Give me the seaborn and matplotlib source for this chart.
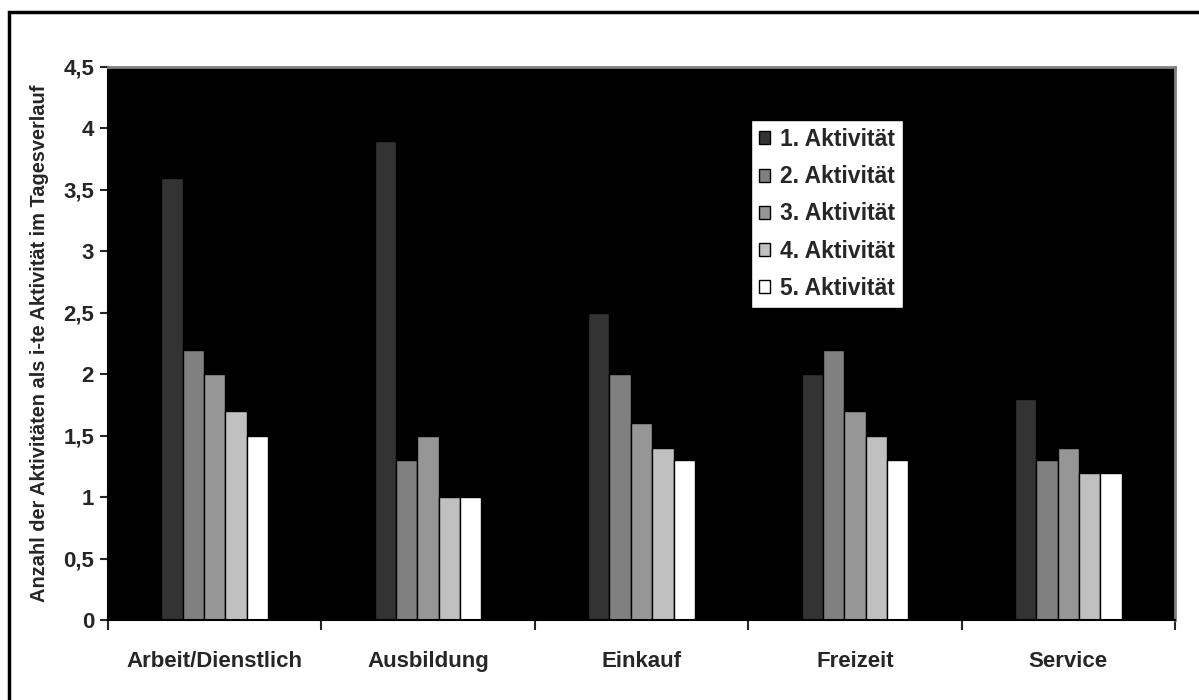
import pandas as pd
import seaborn as sns
import matplotlib.pyplot as plt
from matplotlib.patches import Rectangle

categories = ['Arbeit/Dienstlich', 'Ausbildung', 'Einkauf', 'Freizeit', 'Service']
series = ['1. Aktivität', '2. Aktivität', '3. Aktivität', '4. Aktivität', '5. Aktivität']
akt1 = [3.6, 3.9, 2.5, 2.0, 1.8]
akt2 = [2.2, 1.3, 2.0, 2.2, 1.3]
akt3 = [2.0, 1.5, 1.6, 1.7, 1.4]
akt4 = [1.7, 1.0, 1.4, 1.5, 1.2]
akt5 = [1.5, 1.0, 1.3, 1.3, 1.2]
yticks = [0, 0.5, 1, 1.5, 2, 2.5, 3, 3.5, 4, 4.5]
ytick_labels = ['0', '0,5', '1', '1,5', '2', '2,5', '3', '3,5', '4', '4,5']
colors = ['#333333', '#808080', '#969696', '#c0c0c0', '#ffffff']

rows = []
for s, vals in zip(series, [akt1, akt2, akt3, akt4, akt5]):
    for c, v in zip(categories, vals):
        rows.append({'Kategorie': c, 'Wert': v, 'Serie': s})
df = pd.DataFrame(rows)

sns.set_style('white')
plt.rcParams['font.family'] = ['Liberation Sans', 'DejaVu Sans']
plt.rcParams['font.weight'] = 'bold'

fig = plt.figure(figsize=(11.99, 7), dpi=100)
ax = fig.add_axes([108 / 1199, 1 - 620 / 700, (1175 - 108) / 1199, (620 - 67) / 700])
ax.set_facecolor('black')

sns.barplot(data=df, x='Kategorie', y='Wert', hue='Serie', palette=colors,
            width=0.5, gap=0, edgecolor='black', linewidth=1, ax=ax)

ax.set_xlim(-0.5, 4.5)
ax.set_ylim(0, 4.5)
ax.set_yticks(yticks)
ax.set_yticklabels(ytick_labels, fontsize=16, fontweight='bold')
ax.set_xticks(range(len(categories)))
ax.set_xticklabels(categories, fontsize=16, fontweight='bold')
ax.set_xticks([i - 0.5 for i in range(len(categories) + 1)], minor=True)
ax.tick_params(axis='x', which='major', length=0, pad=22)
ax.tick_params(axis='x', which='minor', length=7, width=1.5, direction='out', bottom=True)
ax.tick_params(axis='y', length=6, width=1.5, direction='out', left=True, pad=4)
ax.set_xlabel('')
ax.set_ylabel('Anzahl der Aktivitäten als i-te Aktivität im Tagesverlauf',
              fontsize=14.4, fontweight='bold', labelpad=10)

for side in ['left', 'bottom']:
    ax.spines[side].set_color('black')
    ax.spines[side].set_linewidth(1.5)
for side in ['top', 'right']:
    ax.spines[side].set_color('#808080')
    ax.spines[side].set_linewidth(2)

leg = ax.legend(loc='upper left', bbox_to_anchor=((751 - 108) / 1067, (620 - 120) / 553),
                frameon=True, fancybox=False, framealpha=1, edgecolor='black',
                prop={'size': 16.5, 'weight': 'bold'}, handlelength=0.5, handleheight=0.5,
                handletextpad=0.4, labelspacing=0.62, borderpad=0.35, borderaxespad=0)
leg.get_frame().set_linewidth(1)

fig.add_artist(Rectangle((9 / 1199, -0.2), 1.2, 1.2 - 12 / 700, transform=fig.transFigure,
                         fill=False, edgecolor='black', linewidth=2.5))

plt.savefig('out.png', dpi=100)
